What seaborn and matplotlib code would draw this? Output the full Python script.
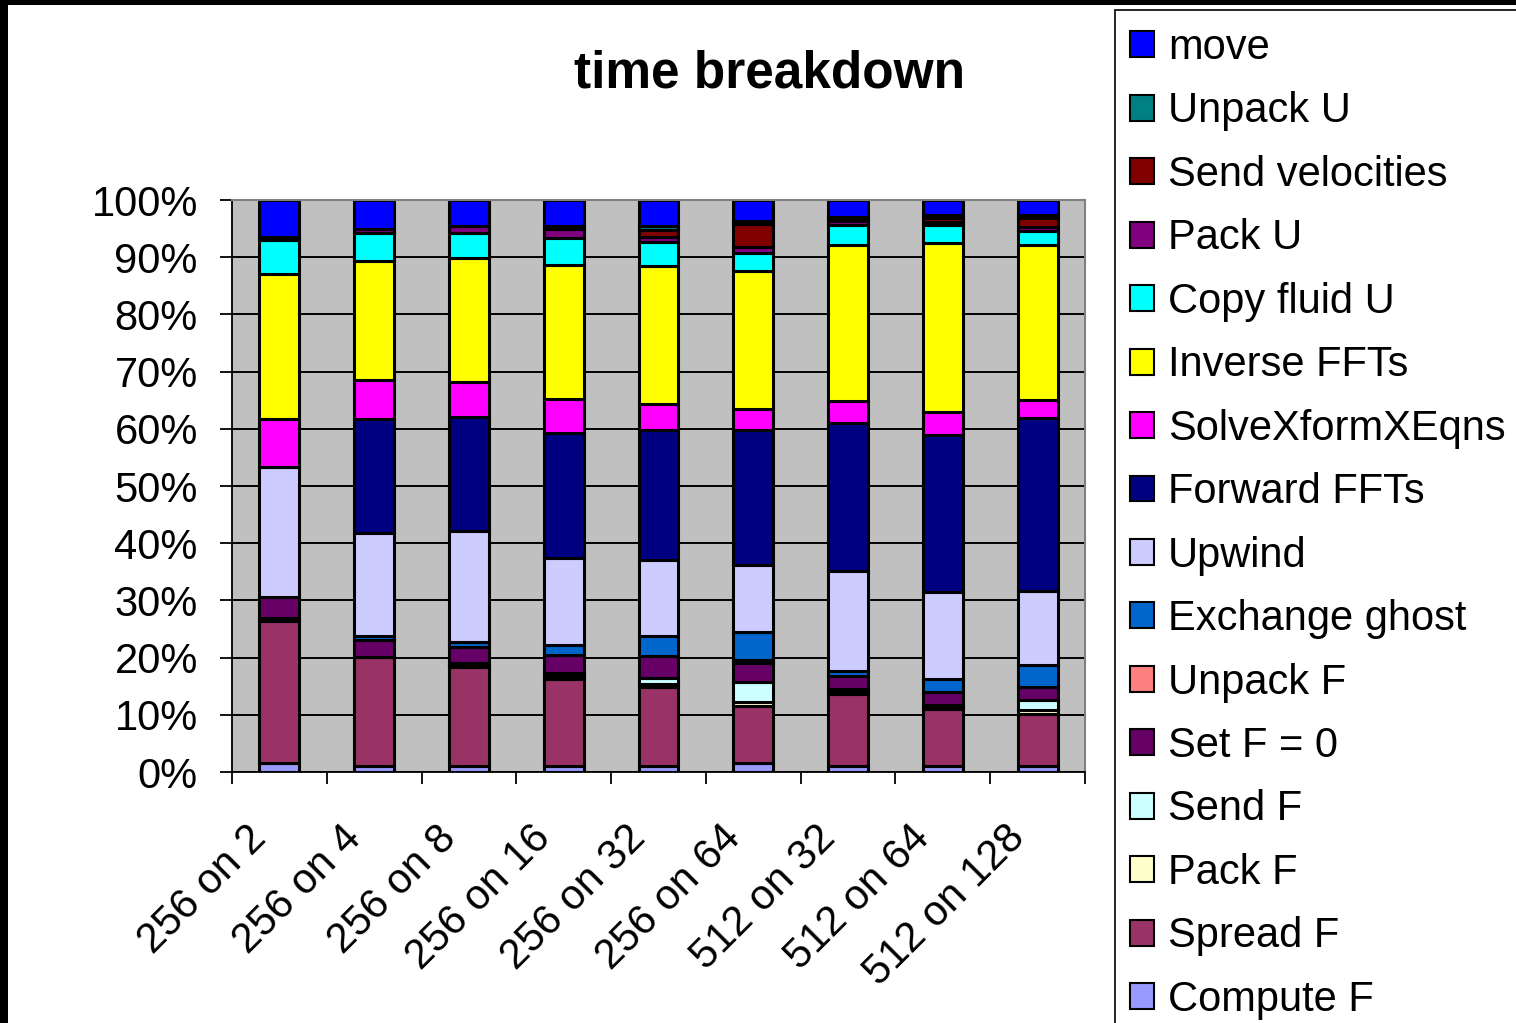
import numpy as np
import pandas as pd
import matplotlib
matplotlib.use("Agg")
import matplotlib.pyplot as plt
import seaborn as sns
from matplotlib.patches import Patch, Rectangle
from matplotlib.transforms import ScaledTranslation

# Run configurations (grid size on processor count)
configs = ["256 on 2", "256 on 4", "256 on 8", "256 on 16", "256 on 32",
           "256 on 64", "512 on 32", "512 on 64", "512 on 128"]

# Share of run time per phase (percent), bottom of the stack first
compute_f      = [1.5, 1.0, 1.0, 1.0, 1.0, 1.5, 1.0, 1.0, 1.0]
spread_f       = [25.0, 19.1, 17.4, 15.3, 13.9, 10.0, 12.7, 10.0, 9.2]
pack_f         = [0.3, 0.0, 0.3, 0.5, 0.5, 0.8, 0.4, 0.3, 0.6]
send_f         = [0.2, 0.0, 0.3, 0.5, 1.0, 3.5, 0.4, 0.4, 1.8]
set_f_zero     = [3.6, 3.0, 2.9, 3.2, 3.8, 3.3, 2.3, 2.3, 2.3]
unpack_f       = [0.0, 0.0, 0.0, 0.0, 0.0, 0.5, 0.0, 0.0, 0.0]
exchange_ghost = [0.1, 0.7, 0.9, 1.8, 3.5, 4.9, 0.9, 2.3, 3.8]
upwind         = [22.7, 17.9, 19.3, 15.2, 13.4, 11.7, 17.5, 15.2, 12.9]
forward_ffts   = [0.0, 20.0, 20.0, 21.8, 22.7, 23.6, 25.9, 27.4, 30.3]
solve_xform    = [8.4, 6.9, 6.0, 6.0, 4.6, 3.7, 3.8, 4.1, 3.2]
inverse_ffts   = [25.3, 20.8, 21.8, 23.6, 24.1, 24.1, 27.2, 29.5, 27.0]
copy_fluid_u   = [6.0, 4.8, 4.3, 4.7, 4.2, 3.2, 3.6, 3.2, 2.5]
pack_u         = [0.3, 0.8, 1.3, 1.5, 0.8, 1.0, 0.7, 0.4, 0.7]
send_velocity  = [0.2, 0.0, 0.0, 0.4, 1.3, 4.0, 0.4, 0.8, 1.6]
unpack_u       = [0.1, 0.0, 0.0, 0.2, 0.7, 0.5, 0.3, 0.4, 0.4]
move           = [6.4, 5.0, 4.5, 4.5, 4.5, 3.7, 2.9, 2.7, 2.7]

phases = ["Compute F", "Spread F", "Pack F", "Send F", "Set F = 0", "Unpack F",
          "Exchange ghost", "Upwind", "Forward FFTs", "SolveXformXEqns",
          "Inverse FFTs", "Copy fluid U", "Pack U", "Send velocities",
          "Unpack U", "move"]
phase_values = [compute_f, spread_f, pack_f, send_f, set_f_zero, unpack_f,
                exchange_ghost, upwind, forward_ffts, solve_xform,
                inverse_ffts, copy_fluid_u, pack_u, send_velocity,
                unpack_u, move]
phase_colors = ["#9999FF", "#993366", "#FFFFCC", "#CCFFFF", "#660066", "#FF8080",
                "#0066CC", "#CCCCFF", "#000080", "#FF00FF",
                "#FFFF00", "#00FFFF", "#800080", "#800000",
                "#008080", "#0000FF"]

ytick_values = list(range(0, 101, 10))
ytick_labels = [f"{v}%" for v in ytick_values]

df = pd.DataFrame(np.array(phase_values).T, index=configs, columns=phases)
pct = df.div(df.sum(axis=1), axis=0) * 100

sns.set_style("white")
plt.rcParams["font.family"] = ["Liberation Sans", "DejaVu Sans"]
for key in ("text.color", "axes.labelcolor", "xtick.color", "ytick.color"):
    plt.rcParams[key] = "black"

W, H = 1516, 1023
fig = plt.figure(figsize=(W / 100, H / 100), dpi=100)
ax = fig.add_axes([232 / W, 1 - 772 / H, (1085 - 232) / W, (772 - 200) / H])
ax.set_facecolor("#C0C0C0")
ax.set_axisbelow(True)
ax.yaxis.grid(True, color="black", linewidth=1.4)

bottom = np.zeros(len(configs))
for phase, color in zip(phases, phase_colors):
    vals = pct[phase].values
    sns.barplot(x=configs, y=vals, bottom=bottom.copy(), color=color,
                saturation=1, width=0.42, edgecolor="black", linewidth=2.2,
                errorbar=None, ax=ax)
    bottom += vals

ax.set_xlim(-0.5, len(configs) - 0.5)
ax.set_ylim(0, 100)
ax.set_xlabel("")
ax.set_ylabel("")

ax.set_yticks(ytick_values)
ax.set_yticklabels(ytick_labels, fontsize=30, color="black")
ax.tick_params(axis="y", left=True, length=8.6, width=1.3, color="black", pad=16)

ax.set_xticks(range(len(configs)))
ax.set_xticklabels(configs, fontsize=30, rotation=45, ha="right",
                   va="top", rotation_mode="anchor", color="black")
ax.tick_params(axis="x", which="major", bottom=True, length=0, pad=33)
shift = ScaledTranslation(-0.33, 0, fig.dpi_scale_trans)
for lab in ax.get_xticklabels():
    lab.set_transform(lab.get_transform() + shift)
ax.set_xticks(np.arange(-0.5, len(configs), 1.0), minor=True)
ax.tick_params(axis="x", which="minor", bottom=True, length=8.6, width=1.3,
               color="black")

for side in ("left", "bottom"):
    ax.spines[side].set_color("black")
    ax.spines[side].set_linewidth(1.3)
for side in ("top", "right"):
    ax.spines[side].set_visible(True)
    ax.spines[side].set_color("#808080")
    ax.spines[side].set_linewidth(1.5)

fig.text(770 / W, 1 - 74 / H, "time breakdown", ha="center", va="center",
         fontsize=37, fontweight="bold", color="black")

# legend box runs off the right and bottom edges
fig.add_artist(Rectangle((1115 / W, -0.02), 0.4, 1 - 10 / H + 0.02,
                         transform=fig.transFigure, facecolor="white",
                         edgecolor="black", linewidth=1.2))
handles = [Patch(facecolor=c, edgecolor="black", linewidth=1.5)
           for c in phase_colors[::-1]]
leg = fig.legend(handles, phases[::-1], loc="upper left",
                 bbox_to_anchor=(1130 / W, 1 - 28 / H), frameon=False,
                 fontsize=30, handlelength=0.58, handleheight=0.58,
                 handletextpad=0.33, labelspacing=0.563, borderpad=0,
                 borderaxespad=0)
for t in leg.get_texts():
    t.set_color("black")

# dark frame along the top and left edge
fig.add_artist(Rectangle((0, 1 - 5 / H), 1, 5 / H, transform=fig.transFigure,
                         facecolor="black", edgecolor="none"))
fig.add_artist(Rectangle((0, 0), 8 / W, 1, transform=fig.transFigure,
                         facecolor="black", edgecolor="none"))

fig.savefig("out.png", dpi=100)
